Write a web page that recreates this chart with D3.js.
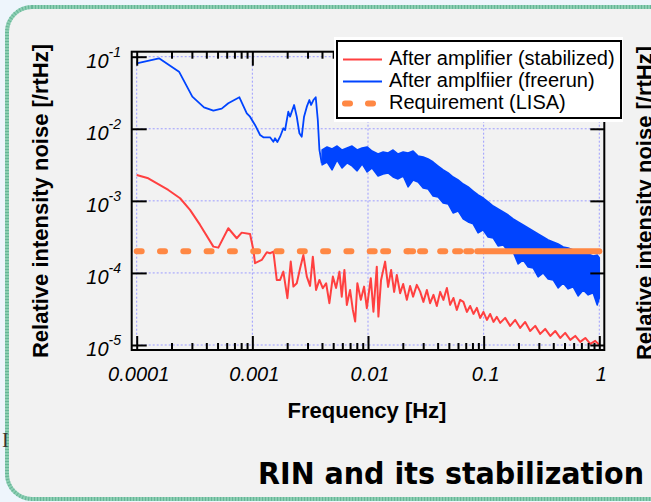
<!DOCTYPE html>
<html>
<head>
<meta charset="utf-8">
<script src="https://cdn.jsdelivr.net/npm/d3@7"></script>
<style>
  html, body { margin: 0; padding: 0; background: #eef5fc; }
  svg { display: block; }
</style>
</head>
<body>
<div id="chart"></div>
<script>
// values, as [log10 f (Hz), log10 noise (1/rtHz)]
const stabilized = [
  [-4.000,-2.641],[-3.900,-2.687],[-3.727,-2.849],[-3.625,-2.964],[-3.539,-3.126],[-3.452,-3.334],
  [-3.337,-3.635],[-3.294,-3.649],[-3.208,-3.380],[-3.135,-3.519],[-3.092,-3.441],[-3.020,-3.459],
  [-2.991,-3.681],[-2.977,-3.865],[-2.919,-3.820],[-2.875,-3.713],[-2.847,-3.727],[-2.818,-3.705],
  [-2.789,-4.097],[-2.760,-4.097],[-2.732,-3.982],[-2.697,-4.351],[-2.668,-3.843],[-2.645,-4.190],
  [-2.616,-4.143],[-2.587,-3.935],[-2.559,-3.750],[-2.529,-4.051],[-2.501,-4.180],[-2.477,-3.774],
  [-2.449,-4.236],[-2.420,-4.097],[-2.391,-4.212],[-2.362,-4.143],[-2.334,-4.420],[-2.304,-4.051],
  [-2.276,-4.208],[-2.247,-3.982],[-2.227,-4.329],[-2.204,-3.958],[-2.183,-4.444],[-2.155,-4.236],
  [-2.131,-4.513],[-2.111,-4.675],[-2.092,-4.143],[-2.062,-4.374],[-2.034,-4.190],[-2.010,-4.490],
  [-1.976,-4.073],[-1.953,-4.537],[-1.924,-3.913],[-1.910,-4.606],[-1.887,-4.097],[-1.852,-3.843],
  [-1.826,-4.194],[-1.800,-3.958],[-1.774,-4.264],[-1.751,-4.028],[-1.722,-4.282],[-1.696,-4.153],
  [-1.664,-4.374],[-1.636,-4.180],[-1.610,-4.329],[-1.578,-4.166],[-1.549,-4.259],[-1.521,-4.402],
  [-1.491,-4.236],[-1.463,-4.420],[-1.434,-4.305],[-1.405,-4.458],[-1.376,-4.263],[-1.348,-4.374],
  [-1.318,-4.208],[-1.290,-4.444],[-1.261,-4.347],[-1.232,-4.513],[-1.203,-4.374],[-1.175,-4.402],
  [-1.145,-4.541],[-1.117,-4.458],[-1.088,-4.569],[-1.059,-4.485],[-1.030,-4.624],[-1.002,-4.541],
  [-0.972,-4.652],[-0.944,-4.569],[-0.915,-4.680],[-0.886,-4.610],[-0.857,-4.693],[-0.814,-4.624],
  [-0.771,-4.735],[-0.727,-4.652],[-0.684,-4.763],[-0.641,-4.680],[-0.598,-4.805],[-0.554,-4.735],
  [-0.511,-4.846],[-0.468,-4.777],[-0.424,-4.874],[-0.381,-4.805],[-0.338,-4.902],[-0.295,-4.832],
  [-0.251,-4.929],[-0.208,-4.874],[-0.165,-4.957],[-0.121,-4.902],[-0.078,-4.985],[-0.035,-4.943],
  [0.000,-4.998]
];

const freerun = [
  [-4.000,-1.092],[-3.807,-1.022],[-3.634,-1.208],[-3.519,-1.555],[-3.418,-1.702],[-3.337,-1.749],
  [-3.265,-1.721],[-3.208,-1.646],[-3.112,-1.563],[-3.048,-1.785],[-3.020,-1.832],[-2.977,-1.947],
  [-2.933,-2.086],[-2.905,-2.118],[-2.847,-2.118],[-2.818,-2.179],[-2.804,-2.132],[-2.784,-2.183],
  [-2.760,-2.110],[-2.732,-1.993],[-2.717,-2.017],[-2.689,-1.763],[-2.674,-1.832],[-2.639,-1.670],
  [-2.616,-1.832],[-2.593,-2.062],[-2.573,-2.110],[-2.553,-1.832],[-2.529,-1.693],[-2.507,-1.601],
  [-2.492,-1.670],[-2.472,-1.601],[-2.452,-1.563],[-2.434,-1.878],[-2.420,-2.294],[-2.400,-2.478]
];

// above ~4 mHz the freerun trace is so dense it reads as a band: [log f, top, bottom]
const freerunBand = [
  [-2.397,-2.294,-2.502],[-2.354,-2.252,-2.461],[-2.311,-2.280,-2.571],[-2.267,-2.239,-2.433],
  [-2.224,-2.294,-2.544],[-2.181,-2.266,-2.474],[-2.138,-2.239,-2.516],[-2.094,-2.294,-2.585],
  [-2.051,-2.266,-2.488],[-2.008,-2.252,-2.599],[-1.965,-2.308,-2.544],[-1.913,-2.350,-2.655],
  [-1.869,-2.322,-2.627],[-1.826,-2.336,-2.613],[-1.783,-2.294,-2.669],[-1.740,-2.350,-2.696],
  [-1.696,-2.322,-2.655],[-1.653,-2.336,-2.807],[-1.610,-2.308,-2.710],[-1.567,-2.377,-2.738],
  [-1.523,-2.391,-2.821],[-1.480,-2.419,-2.835],[-1.437,-2.461,-2.932],[-1.394,-2.516,-2.946],
  [-1.350,-2.571,-3.029],[-1.307,-2.613,-3.043],[-1.264,-2.669,-3.168],[-1.221,-2.710,-3.140],
  [-1.177,-2.766,-3.251],[-1.134,-2.807,-3.293],[-1.091,-2.863,-3.320],[-1.048,-2.918,-3.445],
  [-1.004,-2.960,-3.404],[-0.961,-3.015,-3.501],[-0.918,-3.071,-3.515],[-0.875,-3.112,-3.626],
  [-0.831,-3.154,-3.612],[-0.788,-3.196,-3.695],[-0.745,-3.251,-3.709],[-0.702,-3.293,-3.875],
  [-0.658,-3.334,-3.820],[-0.615,-3.376,-3.917],[-0.572,-3.418,-3.931],[-0.529,-3.459,-4.055],
  [-0.485,-3.501,-4.000],[-0.442,-3.542,-4.083],[-0.399,-3.570,-4.097],[-0.356,-3.598,-4.208],
  [-0.312,-3.639,-4.139],[-0.269,-3.653,-4.222],[-0.226,-3.681,-4.194],[-0.183,-3.709,-4.319],
  [-0.139,-3.723,-4.236],[-0.096,-3.737,-4.305],[-0.053,-3.764,-4.277],[-0.018,-3.750,-4.444],
  [0.000,-3.792,-4.347]
];

// LISA requirement: flat level, trace points (Hz); points get dense past the last break
const reqLevel = 2e-4;
const reqFreq = [1e-4, 0.01352, 0.0222, 0.0282, 0.0421, 0.0567, 0.0706, 0.0879, 1];

const xTicks = [1e-4, 1e-3, 1e-2, 1e-1, 1];
const xTickLabels = ['0.0001', '0.001', '0.01', '0.1', '1'];
const yTicks = [1e-5, 1e-4, 1e-3, 1e-2, 1e-1];
const yTickExp = ['-5', '-4', '-3', '-2', '-1'];
const legendLabels = ['After amplifier (stabilized)', 'After amplfiier (freerun)', 'Requirement (LISA)'];

const width = 651, height = 502;
const font = "'Liberation Sans', Arial, Helvetica, sans-serif";
const color = { stab: '#ff4040', free: '#0044ff', req: '#ff8844', grid: '#9c9cff' };

const svg = d3.select('#chart').append('svg').attr('width', width).attr('height', height);

// slide panel
svg.append('rect').attr('width', width).attr('height', height).attr('fill', '#eef5fc');
svg.append('rect')
  .attr('x', 7).attr('y', 7).attr('width', 720).attr('height', 492).attr('rx', 25)
  .attr('fill', '#f2f2f2').attr('stroke', '#8ccfb3').attr('stroke-width', 4);
svg.append('rect')
  .attr('x', 7).attr('y', 7).attr('width', 720).attr('height', 492).attr('rx', 25)
  .attr('fill', 'none').attr('stroke', '#4fa585').attr('stroke-width', 4)
  .attr('stroke-dasharray', '1,2').attr('opacity', 0.6);

const x = d3.scaleLog().domain([1e-4, 1]).range([136.7, 599.3]);
const y = d3.scaleLog().domain([1e-5, 1e-1]).range([345, 56.7]);
const pad = 5;
const frame = {
  left: x.range()[0] - pad, right: x.range()[1] + pad,
  top: y.range()[1] - pad, bottom: y.range()[0] + pad
};

svg.append('clipPath').attr('id', 'plotClip')
  .append('rect')
  .attr('x', frame.left).attr('y', frame.top)
  .attr('width', frame.right - frame.left).attr('height', frame.bottom - frame.top);

// grid lines at decades
const gGrid = svg.append('g').attr('stroke', color.grid).attr('stroke-width', 1).attr('stroke-dasharray', '2,2');
gGrid.selectAll('.vgrid').data(xTicks).enter().append('line')
  .attr('x1', d => x(d)).attr('x2', d => x(d))
  .attr('y1', y(1e-1)).attr('y2', y(1e-5));
gGrid.selectAll('.hgrid').data(yTicks).enter().append('line')
  .attr('y1', d => y(d)).attr('y2', d => y(d))
  .attr('x1', x(1e-4)).attr('x2', x(1));

// series
const gData = svg.append('g').attr('clip-path', 'url(#plotClip)');
const lineGen = d3.line().x(d => x(Math.pow(10, d[0]))).y(d => y(Math.pow(10, d[1])));

const areaGen = d3.area()
  .x(d => x(Math.pow(10, d[0])))
  .y0(d => y(Math.pow(10, d[2])))
  .y1(d => y(Math.pow(10, d[1])));

gData.append('path').datum(freerun)
  .attr('d', lineGen).attr('fill', 'none')
  .attr('stroke', color.free).attr('stroke-width', 1.8).attr('stroke-linejoin', 'round');

gData.append('path').datum(freerunBand)
  .attr('d', areaGen).attr('fill', color.free)
  .attr('stroke', color.free).attr('stroke-width', 1.5).attr('stroke-linejoin', 'round');

gData.append('path').datum(stabilized)
  .attr('d', lineGen).attr('fill', 'none')
  .attr('stroke', color.stab).attr('stroke-width', 2).attr('stroke-linejoin', 'round');

// requirement: dash pattern restarts at every trace point
const reqSegments = d3.pairs(reqFreq);
gData.selectAll('.req').data(reqSegments).enter().append('line')
  .attr('x1', d => x(d[0])).attr('x2', d => x(d[1]))
  .attr('y1', y(reqLevel)).attr('y2', y(reqLevel))
  .attr('stroke', color.req).attr('stroke-width', 6).attr('stroke-linecap', 'round')
  .attr('stroke-dasharray', (d, i) => i === reqSegments.length - 1 ? null : '5,18.3');

// axes ticks (all pointing into the plot)
const minorX = x.ticks().filter(d => !xTicks.some(t => Math.abs(t - d) / t < 1e-6));

function styleTicks(g) {
  g.selectAll('.domain').remove();
  g.selectAll('.tick line').attr('stroke', '#000').attr('stroke-width', 2);
}

svg.append('g').attr('transform', `translate(0,${frame.bottom})`)
  .call(d3.axisBottom(x).tickValues(minorX).tickSize(-7).tickFormat('')).call(styleTicks);
svg.append('g').attr('transform', `translate(0,${frame.bottom})`)
  .call(d3.axisBottom(x).tickValues(xTicks).tickSize(-14).tickFormat('')).call(styleTicks);
svg.append('g').attr('transform', `translate(0,${frame.top})`)
  .call(d3.axisTop(x).tickValues(minorX).tickSize(-7).tickFormat('')).call(styleTicks);
svg.append('g').attr('transform', `translate(0,${frame.top})`)
  .call(d3.axisTop(x).tickValues(xTicks).tickSize(-14).tickFormat('')).call(styleTicks);
svg.append('g').attr('transform', `translate(${frame.left},0)`)
  .call(d3.axisLeft(y).tickValues(yTicks).tickSize(-15).tickFormat('')).call(styleTicks);
svg.append('g').attr('transform', `translate(${frame.right},0)`)
  .call(d3.axisRight(y).tickValues(yTicks).tickSize(-14).tickFormat('')).call(styleTicks);

svg.append('rect')
  .attr('x', frame.left).attr('y', frame.top)
  .attr('width', frame.right - frame.left).attr('height', frame.bottom - frame.top)
  .attr('fill', 'none').attr('stroke', '#000').attr('stroke-width', 2);

// tick labels
svg.selectAll('.xlabel').data(xTicks).enter().append('text')
  .attr('x', d => x(d) + 2).attr('y', 381)
  .attr('text-anchor', 'middle')
  .attr('font-family', font).attr('font-size', 20).attr('font-style', 'italic')
  .attr('fill', '#000')
  .text((d, i) => xTickLabels[i]);

const yLabels = svg.selectAll('.ylabel').data(yTicks).enter().append('text')
  .attr('x', 121).attr('y', d => y(d) + 11)
  .attr('text-anchor', 'end')
  .attr('font-family', font).attr('font-style', 'italic').attr('fill', '#000');
yLabels.append('tspan').attr('font-size', 20).text('10');
yLabels.append('tspan').attr('font-size', 14).attr('dy', -11).text((d, i) => yTickExp[i]);

// axis titles
svg.append('text')
  .attr('x', 367).attr('y', 418).attr('text-anchor', 'middle')
  .attr('font-family', font).attr('font-size', 22).attr('font-weight', 'bold')
  .text('Frequency [Hz]');

svg.append('text')
  .attr('transform', 'translate(48,201) rotate(-90)').attr('text-anchor', 'middle')
  .attr('font-family', font).attr('font-size', 22).attr('font-weight', 'bold')
  .text('Relative intensity noise [/rtHz]');

// the neighbouring slide plot, cut off at the right edge
svg.append('text')
  .attr('transform', 'translate(652,203) rotate(-90)').attr('text-anchor', 'middle')
  .attr('font-family', font).attr('font-size', 22).attr('font-weight', 'bold')
  .text('Relative intensity noise [/rtHz]');

svg.append('text')
  .attr('x', 2).attr('y', 447)
  .attr('font-family', "'Liberation Serif', serif").attr('font-size', 20).attr('fill', '#333')
  .text('I');

svg.append('text')
  .attr('x', 258).attr('y', 484)
  .attr('font-family', "'DejaVu Sans', Verdana, sans-serif").attr('font-size', 30).attr('font-weight', 'bold')
  .attr('textLength', 386).attr('lengthAdjust', 'spacingAndGlyphs')
  .text('RIN and its stabilization');

// legend
const gLegend = svg.append('g');
gLegend.append('rect').attr('x', 334).attr('y', 37).attr('width', 289).attr('height', 85).attr('fill', '#fff');
gLegend.append('rect').attr('x', 337).attr('y', 41).attr('width', 284).attr('height', 77)
  .attr('fill', 'none').attr('stroke', '#000').attr('stroke-width', 2);

const legendStyles = [
  { stroke: color.stab, width: 1.8, dash: null, cap: 'butt' },
  { stroke: color.free, width: 1.8, dash: null, cap: 'butt' },
  { stroke: color.req, width: 6, dash: '5,18', cap: 'round' }
];
gLegend.selectAll('.lline').data(legendLabels).enter().append('line')
  .attr('x1', (d, i) => i === 2 ? 345 : 343).attr('x2', (d, i) => i === 2 ? 377 : 382)
  .attr('y1', (d, i) => 59.5 + 22 * i).attr('y2', (d, i) => 59.5 + 22 * i)
  .attr('stroke', (d, i) => legendStyles[i].stroke)
  .attr('stroke-width', (d, i) => legendStyles[i].width)
  .attr('stroke-dasharray', (d, i) => legendStyles[i].dash)
  .attr('stroke-linecap', (d, i) => legendStyles[i].cap);

gLegend.selectAll('.ltext').data(legendLabels).enter().append('text')
  .attr('x', 389).attr('y', (d, i) => 64.5 + 22 * i)
  .attr('font-family', font).attr('font-size', 20).attr('fill', '#000')
  .text(d => d);
</script>
</body>
</html>
